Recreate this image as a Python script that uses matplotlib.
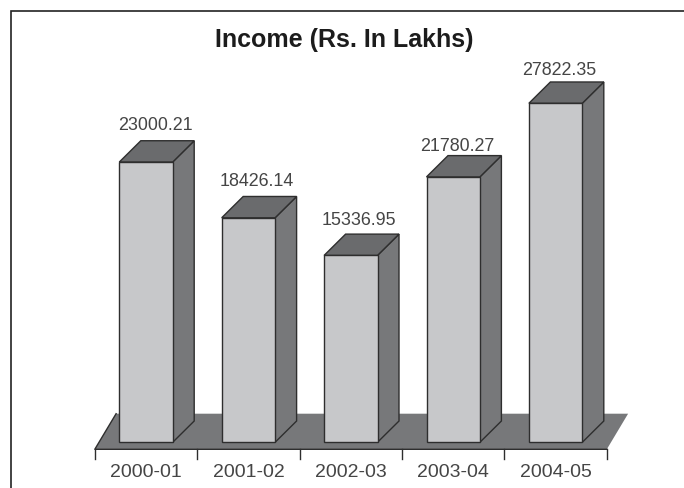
import matplotlib
matplotlib.use("Agg")
import matplotlib.pyplot as plt
from matplotlib.patches import Polygon

plt.rcParams['font.family'] = ['Liberation Sans', 'DejaVu Sans']

# データ
years = ["2000-01", "2001-02", "2002-03", "2003-04", "2004-05"]
income = [23000.21, 18426.14, 15336.95, 21780.27, 27822.35]

# ラベルの微調整 (pixel)
label_dx = [9.5, 8, 8, 4, 4]
label_dy = [15.7, 14.7, 14, 9, 11.7]

# スケール
px_per_cat = 102.4
px_per_val = 0.012185

FRONT = "#c7c8ca"
SIDE = "#77787a"
TOP = "#6a6b6d"
FLOOR = "#77787a"
EDGE = "#2e2e2e"
TEXT = "#454545"

fig = plt.figure(figsize=(6.84, 4.88), dpi=100)
ax = fig.add_axes([0, 0, 1, 1])
ax.set_xlim(-146.0 / px_per_cat, (684 - 146.0) / px_per_cat)
ax.set_ylim(-(488 - 442.3) / px_per_val, 442.3 / px_per_val)
ax.axis("off")

# 奥行き
bar_half = 26.7 / px_per_cat
bar_dx = 21.5 / px_per_cat
bar_dy = 21.3 / px_per_val
floor_y = -7.0 / px_per_val
floor_dx = 21.3 / px_per_cat
floor_dy = 35.6 / px_per_val
left_edge = -0.5
right_edge = len(years) - 0.5

# 外枠 (上と左だけ)
ax.plot([1.0, 11 / 684, 11 / 684], [1 - 11 / 488, 1 - 11 / 488, 0],
        transform=ax.transAxes, color="#222222", lw=1.2, clip_on=False,
        solid_joinstyle="miter")

# 床
ax.add_patch(Polygon([(left_edge, floor_y), (right_edge, floor_y),
                      (right_edge + floor_dx, floor_y + floor_dy),
                      (left_edge + floor_dx, floor_y + floor_dy)],
                     facecolor=FLOOR, edgecolor="none", zorder=1))
ax.plot([left_edge + floor_dx, left_edge, right_edge],
        [floor_y + floor_dy, floor_y, floor_y], color=EDGE, lw=1.0, zorder=2)

# 目盛り
tick_len = 9.5 / px_per_val
for i in range(len(years) + 1):
    ax.plot([i - 0.5, i - 0.5], [floor_y, floor_y - tick_len],
            color=EDGE, lw=1.0, zorder=2)

# 棒の描画
for i, (year, val) in enumerate(zip(years, income)):
    x0, x1 = i - bar_half, i + bar_half
    ax.add_patch(Polygon([(x1, 0), (x1 + bar_dx, bar_dy),
                          (x1 + bar_dx, val + bar_dy), (x1, val)],
                         facecolor=SIDE, edgecolor=EDGE, lw=1.0, zorder=3))
    ax.add_patch(Polygon([(x0, val), (x1, val),
                          (x1 + bar_dx, val + bar_dy), (x0 + bar_dx, val + bar_dy)],
                         facecolor=TOP, edgecolor=EDGE, lw=1.0, zorder=3))
    ax.add_patch(Polygon([(x0, 0), (x1, 0), (x1, val), (x0, val)],
                         facecolor=FRONT, edgecolor=EDGE, lw=1.0, zorder=4))
    ax.annotate(f"{val:.2f}", xy=(i, val + bar_dy),
                xytext=(label_dx[i], label_dy[i]), textcoords="offset pixels",
                ha="center", va="center", fontsize=12.9, color=TEXT, zorder=5)
    ax.annotate(year, xy=(i, floor_y), xytext=(0, -23),
                textcoords="offset pixels", ha="center", va="center",
                fontsize=14, color=TEXT, zorder=5)

# タイトル
ax.text(344.5 / 684, 1 - 39.5 / 488, "Income (Rs. In Lakhs)", transform=ax.transAxes,
        ha="center", va="center", fontsize=18, fontweight="bold", color="#1c1c1c")

fig.savefig("out.png", dpi=100)
